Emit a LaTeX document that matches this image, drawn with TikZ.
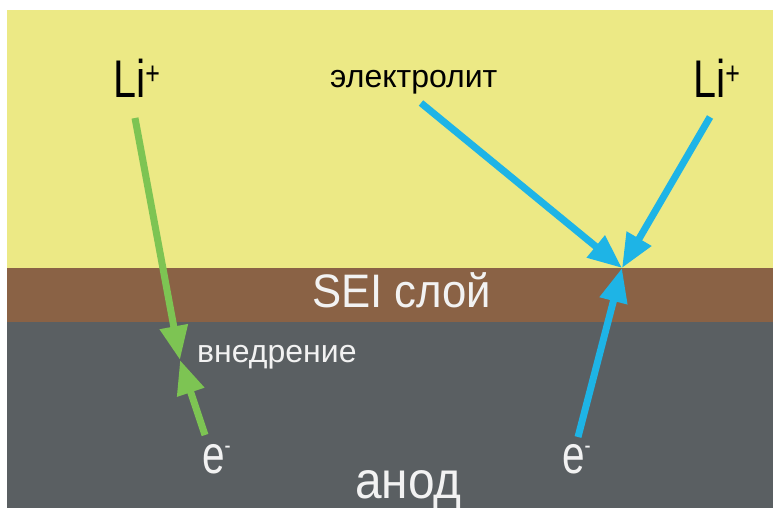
\documentclass[tikz,border=0pt]{standalone}
\usepackage{fontspec}
\setmainfont{Liberation Sans}
\usetikzlibrary{arrows.meta}
\definecolor{elyte}{HTML}{ECE985}
\definecolor{sei}{HTML}{8A6245}
\definecolor{anodec}{HTML}{5A5F62}
\definecolor{grn}{HTML}{7DC453}
\definecolor{blu}{HTML}{1EB4E6}
\definecolor{wtxt}{HTML}{F2F2F2}
\tikzset{
  lbl/.style={inner sep=0pt, anchor=base west},
  garrow/.style={draw=grn, line width=7pt, -{Triangle[length=34pt,width=27pt]}},
  barrow/.style={draw=blu, line width=7pt, -{Triangle[length=34pt,width=27pt]}},
}
\newcommand{\sz}[1]{\fontsize{#1}{#1}\selectfont}
\begin{document}
\begin{tikzpicture}[x=1pt,y=-1pt]
\useasboundingbox (0,0) rectangle (773,508);
\fill[white] (0,0) rectangle (773,508);
\fill[elyte] (7,10) rectangle (773,268);
\fill[sei] (7,268) rectangle (773,322);
\fill[anodec] (7,322) rectangle (773,508);

\node[lbl] (li1) at (113,98) {\sz{53}\scalebox{0.78}[1]{Li\raisebox{13pt}{\sz{32}+}}};
\node[lbl] (li2) at (693,98) {\sz{53}\scalebox{0.78}[1]{Li\raisebox{13pt}{\sz{32}+}}};
\node[lbl] (el) at (330,88) {\sz{32}электролит};
\node[lbl,text=wtxt] (seil) at (312,307) {\sz{47}\scalebox{0.93}[1]{SEI слой}};
\node[lbl,text=wtxt] (vn) at (197,362) {\sz{32}внедрение};
\node[lbl,text=wtxt] (e1) at (202,473) {\sz{54}\scalebox{0.75}[1]{e\raisebox{20pt}{\sz{24}-}}};
\node[lbl,text=wtxt] (e2) at (562,473) {\sz{54}\scalebox{0.75}[1]{e\raisebox{20pt}{\sz{24}-}}};
\node[lbl,text=wtxt] (an) at (355,498) {\sz{52}\scalebox{0.92}[1]{анод}};

\coordinate (g1s) at (135,118);
\coordinate (gm) at (180,360);
\coordinate (g2s) at (205,435);
\coordinate (b1s) at (421,103);
\coordinate (b2s) at (710,117);
\coordinate (b3s) at (578,437);
\coordinate (bm) at (622,268);

\draw[garrow] (g1s) -- (gm);
\draw[garrow] (g2s) -- (gm);
\draw[barrow] (b1s) -- (bm);
\draw[barrow] (b2s) -- (bm);
\draw[barrow] (b3s) -- (bm);
\end{tikzpicture}
\end{document}
